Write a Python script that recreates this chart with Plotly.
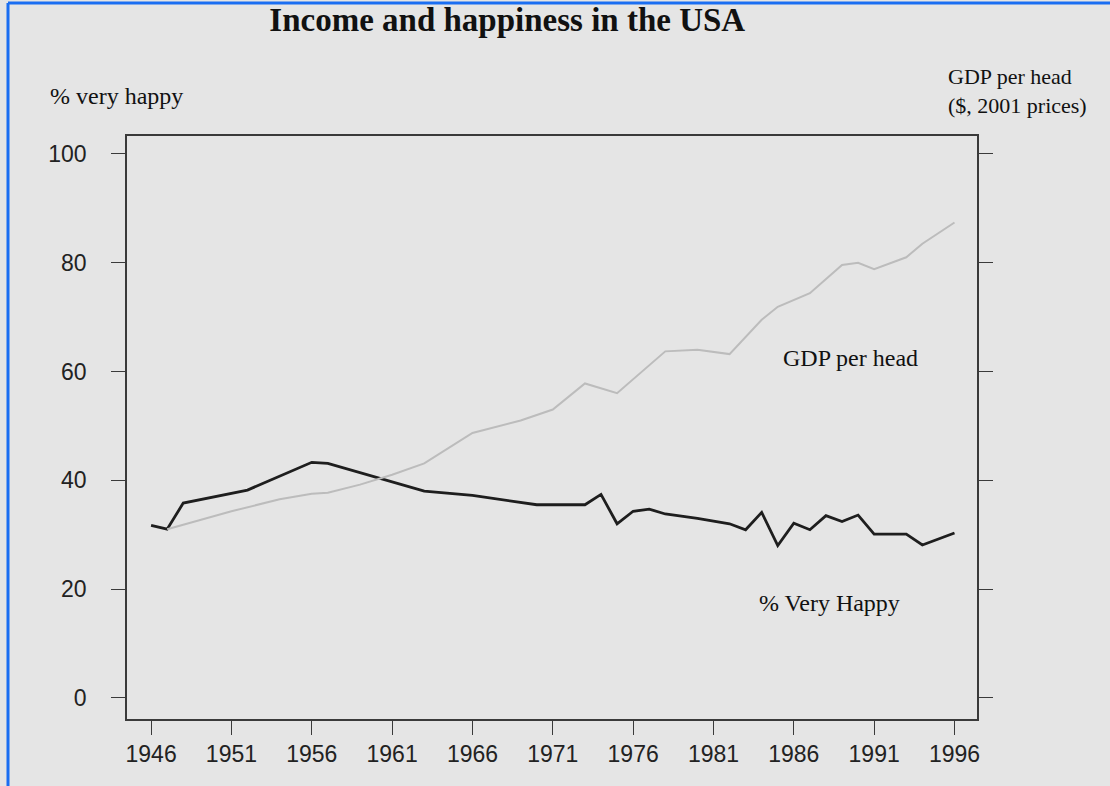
import plotly.graph_objects as go

# % very happy (left axis)
years_happy = [1946, 1947, 1948, 1952, 1956, 1957, 1963, 1966, 1970, 1973, 1974, 1975,
               1976, 1977, 1978, 1980, 1982, 1983, 1984, 1985, 1986, 1987, 1988, 1989,
               1990, 1991, 1993, 1994, 1996]
pct_very_happy = [31.7, 31.0, 35.8, 38.2, 43.3, 43.1, 38.0, 37.2, 35.5, 35.5, 37.4, 32.0,
                  34.3, 34.7, 33.8, 33.0, 32.0, 30.9, 34.1, 28.0, 32.1, 30.9, 33.5, 32.4,
                  33.6, 30.1, 30.1, 28.1, 30.3]

# GDP per head (right axis, unlabelled; values read in the plot's vertical units)
years_gdp = [1947, 1949, 1951, 1954, 1956, 1957, 1959, 1961, 1963, 1966, 1969, 1971,
             1973, 1975, 1978, 1980, 1982, 1984, 1985, 1987, 1989, 1990, 1991, 1993,
             1994, 1996]
gdp_per_head = [31.0, 32.6, 34.3, 36.5, 37.5, 37.7, 39.2, 41.0, 43.1, 48.7, 51.0, 53.0,
                57.8, 56.0, 63.7, 64.0, 63.2, 69.5, 71.9, 74.4, 79.6, 80.0, 78.8, 81.0,
                83.5, 87.4]

x_ticks = [1946, 1951, 1956, 1961, 1966, 1971, 1976, 1981, 1986, 1991, 1996]
y_ticks = [0, 20, 40, 60, 80, 100]

BG = "#e5e5e5"
SERIF = "Liberation Serif, Times New Roman, serif"
SANS = "Liberation Sans, Arial, sans-serif"

fig = go.Figure()
fig.add_trace(go.Scatter(x=years_gdp, y=gdp_per_head, mode="lines", yaxis="y2",
                         line=dict(color="#bcbcbc", width=2), name="GDP per head",
                         showlegend=False))
fig.add_trace(go.Scatter(x=years_happy, y=pct_very_happy, mode="lines",
                         line=dict(color="#1e1e1e", width=2.8), name="% Very Happy",
                         showlegend=False))

axis_common = dict(showgrid=False, zeroline=False, showline=True, linecolor="#3a3a3a",
                   linewidth=1.6, ticks="outside", ticklen=14, tickcolor="#3a3a3a",
                   tickwidth=1.3)

fig.update_layout(
    width=1110, height=786,
    paper_bgcolor=BG, plot_bgcolor=BG,
    margin=dict(l=127, r=133, t=136, b=67),
    title=dict(text="<b>Income and happiness in the USA</b>", x=0.457, y=0.975,
               xanchor="center", yanchor="middle",
               font=dict(family=SERIF, size=33, color="#111")),
    xaxis=dict(range=[1944.5, 1997.4], tickvals=x_ticks, mirror=True,
               tickfont=dict(family=SANS, size=23, color="#222"), **axis_common),
    yaxis=dict(range=[-3.9, 103.3], tickvals=y_ticks, mirror=False, ticklabelstandoff=20,
               tickfont=dict(family=SANS, size=23, color="#222"), **axis_common),
    yaxis2=dict(range=[-3.9, 103.3], tickvals=y_ticks, overlaying="y", side="right",
                showticklabels=False, **axis_common),
    annotations=[
        dict(text="% very happy", xref="paper", yref="paper", x=-0.093, y=1.0686,
             xanchor="left", yanchor="middle", showarrow=False,
             font=dict(family=SERIF, size=24, color="#111")),
        dict(text="GDP per head<br>($, 2001 prices)", xref="paper", yref="paper",
             x=0.9635, y=1.077, xanchor="left", yanchor="middle", align="left",
             showarrow=False, font=dict(family=SERIF, size=22, color="#111")),
        dict(text="GDP per head", x=1989.5, y=62.5, xref="x", yref="y",
             showarrow=False, font=dict(family=SERIF, size=24, color="#111")),
        dict(text="% Very Happy", x=1988.2, y=17.5, xref="x", yref="y",
             showarrow=False, font=dict(family=SERIF, size=24, color="#111")),
    ],
    shapes=[
        dict(type="line", xref="paper", yref="paper", x0=(8 - 127) / 850, x1=(1110 - 127) / 850,
             y0=(719 - 3) / 583, y1=(719 - 3) / 583, line=dict(color="#1a6ef2", width=3)),
        dict(type="line", xref="paper", yref="paper", x0=(8 - 127) / 850, x1=(8 - 127) / 850,
             y0=(719 - 3) / 583, y1=(719 - 786) / 583, line=dict(color="#1a6ef2", width=3)),
    ],
)

fig.write_html("out.html", config={"displayModeBar": False},
               post_script="document.body.style.margin='0';")
